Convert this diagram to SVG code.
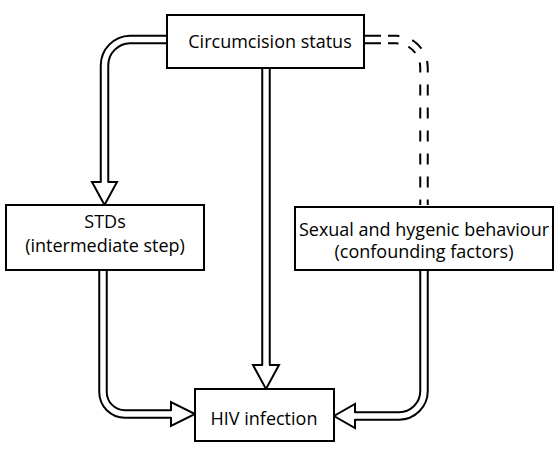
<svg xmlns="http://www.w3.org/2000/svg" width="560" height="450" viewBox="0 0 560 450">
<style>
.box{fill:#fff;stroke:#000;stroke-width:2}
.t{font-family:"Open Sans","Liberation Sans",sans-serif;font-size:18px;fill:#000;text-anchor:middle}
.outer{fill:none;stroke:#000;stroke-width:9.5}
.inner{fill:none;stroke:#fff;stroke-width:5.5}
.dash{fill:none;stroke:#000;stroke-width:9.5;stroke-dasharray:11 12}
.head{fill:#fff;stroke:#000;stroke-width:2;stroke-linejoin:miter}
</style>
<rect width="560" height="450" fill="#fff"/>
<g id="connectors">
  <path class="outer" d="M168,39.5 H130 A26,26 0 0 0 104.5,65.5 V182"/>
  <path class="inner" d="M168,39.5 H130 A26,26 0 0 0 104.5,65.5 V183"/>
  <path class="head" d="M101.5,182 H92 L104.5,205 L117,182 H107.5"/>
  <path class="outer" d="M266,68 V365"/>
  <path class="inner" d="M266,67 V366"/>
  <path class="head" d="M263,365 H253 L266,389 L279,365 H269"/>
  <path class="outer" d="M103,270 V392 A22,22 0 0 0 125,414 H171"/>
  <path class="inner" d="M103,269 V392 A22,22 0 0 0 125,414 H172"/>
  <path class="head" d="M171,411 V402 L195,414 L171,426 V417"/>
  <path class="outer" d="M364,39.5 H381"/>
  <path class="inner" d="M363,39.5 H381"/>
  <path class="dash" d="M388,39.5 H396 A28,28 0 0 1 424,67.5 V205"/>
  <path class="inner" d="M388,39.5 H396 A28,28 0 0 1 424,67.5 V205"/>
  <path class="outer" d="M424,270 V391 A25,25 0 0 1 399,416 H355"/>
  <path class="inner" d="M424,269 V391 A25,25 0 0 1 399,416 H354"/>
  <path class="head" d="M355,413 V404 L334,416 L355,428 V419"/>
</g>
<g id="circumcision">
  <rect class="box" x="167" y="15" width="197" height="53"/>
  <text class="t" x="270" y="48">Circumcision status</text>
</g>
<g id="stds">
  <rect class="box" x="6" y="205" width="198" height="65"/>
  <text class="t" x="105" y="228">STDs</text>
  <text class="t" x="105" y="252">(intermediate step)</text>
</g>
<g id="behaviour">
  <rect class="box" x="295" y="207" width="258" height="63"/>
  <text class="t" x="424" y="236">Sexual and hygenic behaviour</text>
  <text class="t" x="424" y="258">(confounding factors)</text>
</g>
<g id="hiv">
  <rect class="box" x="195" y="389" width="139" height="52"/>
  <text class="t" x="264" y="425">HIV infection</text>
</g>
</svg>
